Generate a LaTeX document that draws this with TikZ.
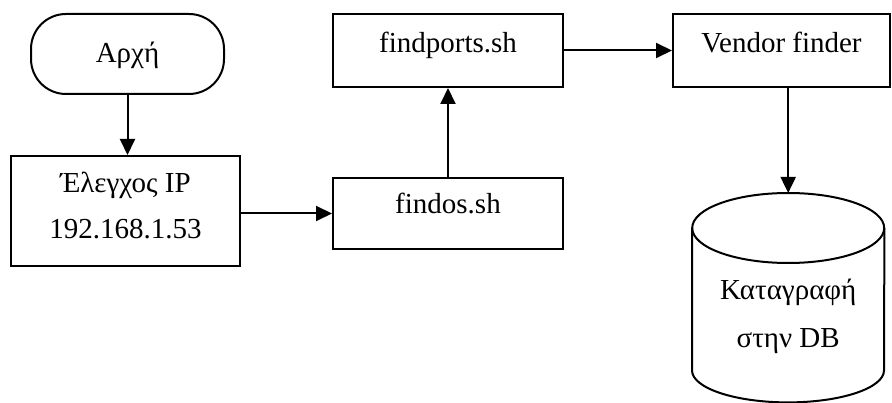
\documentclass[tikz,border=0pt]{standalone}
\usepackage{fontspec}
\setmainfont{Liberation Serif}
\usetikzlibrary{arrows.meta}
\begin{document}
\begin{tikzpicture}[x=1pt,y=-1pt,
  every node/.style={font=\fontsize{29}{46}\selectfont},
  box/.style={draw, line width=2pt, anchor=north west, inner xsep=0pt, inner ysep=0pt},
  flow/.style={line width=2pt, -{Triangle[length=16pt,width=15pt]}}]
\useasboundingbox (0,0) rectangle (892,403);

% process boxes
\node[box, rounded corners=35pt, minimum width=193pt, text height=49pt, text depth=31pt] (start) at (30,13) {Αρχή};
\node[box, minimum width=229pt, text height=83pt, text depth=27pt] (ip) at (10,155)
  {\vbox{\baselineskip=46pt\hbox to 229pt{\hss Έλεγχος IP\hss}\hbox to 229pt{\hss 192.168.1.53\hss}}};
\node[box, minimum width=230pt, text height=36pt, text depth=35pt] (findos) at (332,177) {findos.sh};
\node[box, minimum width=230pt, text height=39pt, text depth=34pt] (findports) at (332,13) {findports.sh};
\node[box, minimum width=217pt, text height=39pt, text depth=34pt] (vendor) at (672,13) {Vendor finder};

% database cylinder
\node[anchor=north west, inner xsep=0pt, inner ysep=0pt, minimum width=192pt, text height=154pt, text depth=55pt] (db) at (692,193)
  {\vbox{\baselineskip=48pt\hbox to 192pt{\hss Καταγραφή\hss}\hbox to 192pt{\hss στην DB\hss}}};
\draw[line width=2pt] ([yshift=-35pt]db.north) ellipse [x radius=96pt, y radius=35pt];
\draw[line width=2pt] ([yshift=-35pt]db.north west) -- ([yshift=32pt]db.south west)
  arc[start angle=180, end angle=360, x radius=96pt, y radius=32pt]
  -- ([yshift=-35pt]db.north east);

% connectors
\draw[flow] (start.south) -- (start.south |- ip.north);
\draw[flow] (ip.east |- findos.west) -- (findos.west);
\draw[flow] (findos.north) -- (findports.south);
\draw[flow] (findports.east) -- (vendor.west);
\draw[flow] (vendor.south -| db.north) -- (db.north);
\end{tikzpicture}
\end{document}
